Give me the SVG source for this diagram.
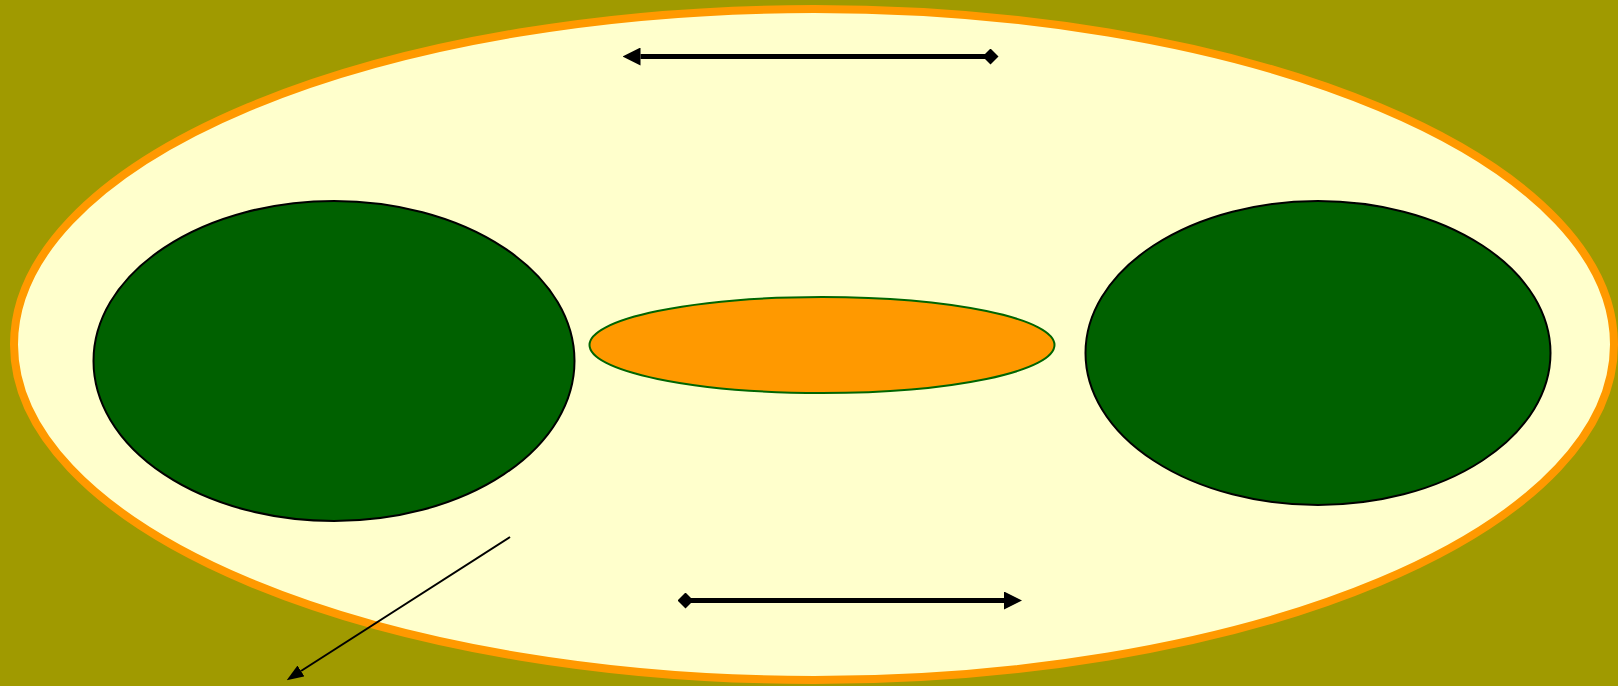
<svg xmlns="http://www.w3.org/2000/svg" width="1618" height="686" viewBox="0 0 1618 686">
<style>
.bg{fill:#a09a00}
.outer{fill:#ffffcc;stroke:#ff9900;stroke-width:8}
.green{fill:#006100;stroke:#000;stroke-width:2}
.mid{fill:#ff9900;stroke:#006600;stroke-width:2}
.thick{stroke:#000;stroke-width:5;fill:none}
.thin{stroke:#000;stroke-width:2;fill:none}
</style>
<defs>
<marker id="arrow" viewBox="0 0 18 18" markerWidth="18" markerHeight="18" markerUnits="userSpaceOnUse" refX="0" refY="9" orient="auto"><path d="M0,0 L18,9 L0,18 z" fill="#000"/></marker>
<marker id="diamond" viewBox="0 0 16 16" markerWidth="16" markerHeight="16" markerUnits="userSpaceOnUse" refX="8" refY="8" orient="auto"><path d="M8,0 L16,8 L8,16 L0,8 z" fill="#000"/></marker>
<marker id="thinArrow" viewBox="0 0 17 13" markerWidth="17" markerHeight="13" markerUnits="userSpaceOnUse" refX="0" refY="6.5" orient="auto"><path d="M0,0 L17,6.5 L0,13 z" fill="#000"/></marker>
</defs>
<rect class="bg" x="0" y="0" width="1618" height="686"/>
<g id="container"><ellipse class="outer" cx="814" cy="344.5" rx="800" ry="335.5"/></g>
<g id="left-node"><ellipse class="green" cx="334" cy="361" rx="240.5" ry="160"/></g>
<g id="right-node"><ellipse class="green" cx="1318" cy="353" rx="232.5" ry="152"/></g>
<g id="middle-node"><ellipse class="mid" cx="822" cy="345" rx="232.5" ry="48"/></g>
<g id="connectors">
<line class="thick" x1="990.5" y1="56.5" x2="640.5" y2="56.5" marker-start="url(#diamond)" marker-end="url(#arrow)"/>
<line class="thick" x1="685.5" y1="600.5" x2="1004" y2="600.5" marker-start="url(#diamond)" marker-end="url(#arrow)"/>
<line class="thin" x1="510" y1="537" x2="301" y2="671" marker-end="url(#thinArrow)"/>
</g>
</svg>
